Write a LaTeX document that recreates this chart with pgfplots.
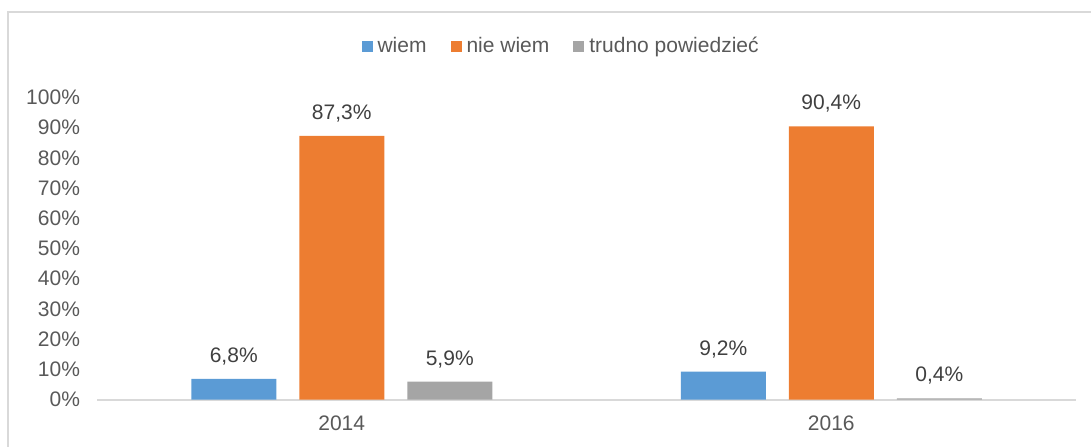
\documentclass[border=0pt]{standalone}
\usepackage{fontspec}
\setmainfont{Liberation Sans}
\usepackage{pgfplots}
\pgfplotsset{compat=1.18}
\definecolor{cblue}{HTML}{5B9BD5}
\definecolor{corange}{HTML}{ED7D31}
\definecolor{cgray}{HTML}{A5A5A5}
\definecolor{ctext}{HTML}{595959}
\definecolor{clabel}{HTML}{404040}
\definecolor{cline}{HTML}{D9D9D9}
\begin{document}
\begin{tikzpicture}
\useasboundingbox (0,0) rectangle (545.5pt,223pt);
% chart frame (cut at right and bottom in the reference)
\draw[cline,line width=0.8pt] (4pt,-2pt) -- (4pt,217pt) -- (550pt,217pt);
\begin{axis}[
  at={(48.5pt,23.25pt)},anchor=south west,
  scale only axis,width=489.5pt,height=151pt,
  font=\fontsize{10.5}{12.6}\selectfont,
  /pgf/number format/assume math mode=true,
  ybar=11.5pt,bar width=42.5pt,
  xmin=-0.5,xmax=1.5,ymin=0,ymax=100,
  xtick={0,1},xticklabels={2014,2016},
  ytick={0,10,...,100},
  yticklabels={0\%,10\%,20\%,30\%,40\%,50\%,60\%,70\%,80\%,90\%,100\%},
  major tick length=0pt,
  axis x line*=bottom,axis y line*=left,
  x axis line style={draw=cline,line width=1pt,-},
  y axis line style={draw=none},
  tick label style={text=ctext},
  yticklabel style={anchor=east,xshift=-5pt},
  xticklabel style={anchor=base,yshift=-15.5pt},
  nodes near coords={\pgfmathprintnumber[fixed,fixed zerofill,precision=1,use comma]{\pgfplotspointmeta}\%},
  nodes near coords style={text=clabel,anchor=base,yshift=8.3pt},
  legend columns=3,
  legend style={draw=none,fill=none,at={(0.473,1.168)},anchor=center,
    column sep=2.5pt,
    /tikz/every even column/.append style={column sep=12pt},
    nodes={inner sep=0pt,text=ctext}},
  legend image code/.code={\fill[#1,draw=none] (0pt,-2.75pt) rectangle (5.5pt,2.75pt);},
]
\addplot[fill=cblue,draw=none] coordinates {(0,6.8) (1,9.2)};
\addplot[fill=corange,draw=none] coordinates {(0,87.3) (1,90.4)};
\addplot[fill=cgray,draw=none] coordinates {(0,5.9) (1,0.4)};
\legend{wiem,nie wiem,trudno powiedzieć}
\end{axis}
\end{tikzpicture}
\end{document}
